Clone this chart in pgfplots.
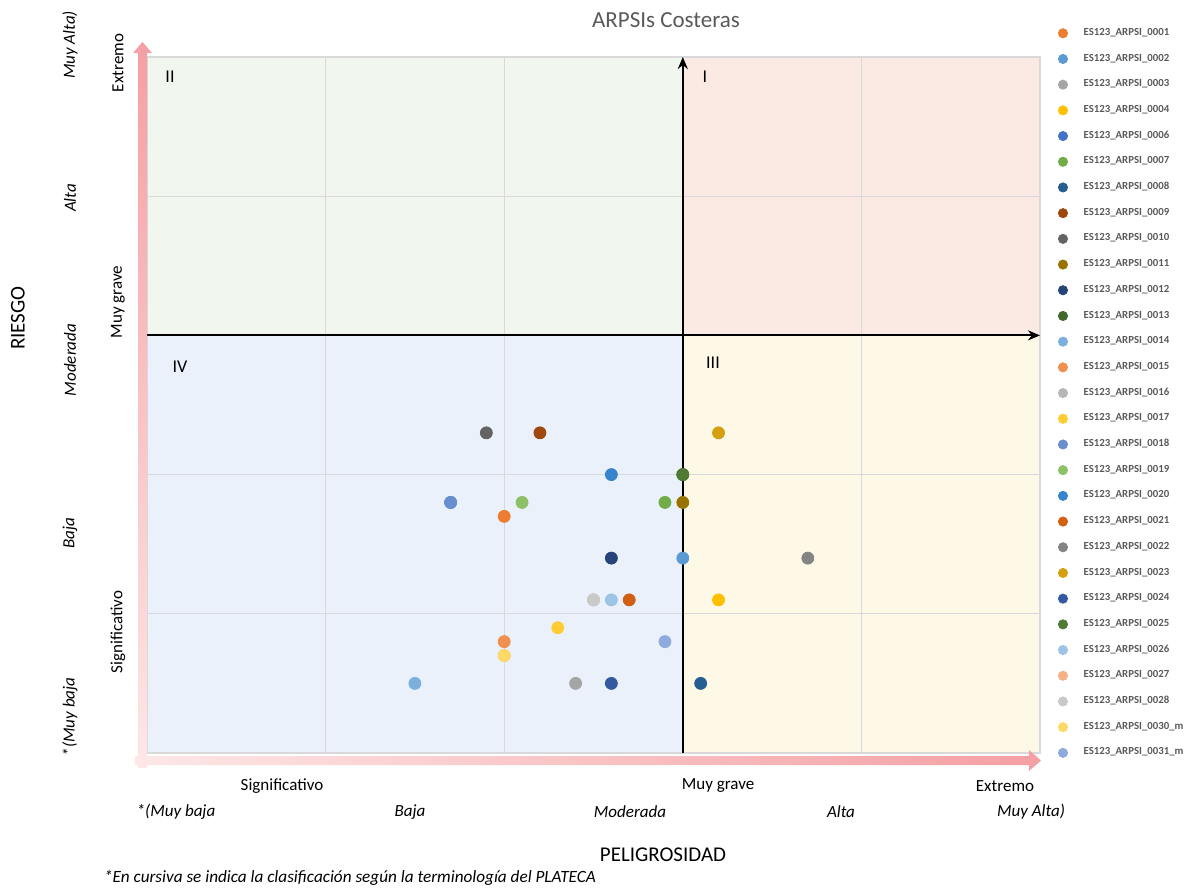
\documentclass[border=0pt]{standalone}
\usepackage{pgfplots}
\pgfplotsset{compat=1.18}
\usepackage{fontspec}
\setmainfont{Carlito}
\usetikzlibrary{arrows.meta}
\definecolor{c01}{HTML}{ED7D31}
\definecolor{c02}{HTML}{5B9BD5}
\definecolor{c03}{HTML}{A5A5A5}
\definecolor{c04}{HTML}{FFC000}
\definecolor{c06}{HTML}{4472C4}
\definecolor{c07}{HTML}{70AD47}
\definecolor{c08}{HTML}{255E91}
\definecolor{c09}{HTML}{9E480E}
\definecolor{c10}{HTML}{636363}
\definecolor{c11}{HTML}{997300}
\definecolor{c12}{HTML}{264478}
\definecolor{c13}{HTML}{43682B}
\definecolor{c14}{HTML}{7CAFDD}
\definecolor{c15}{HTML}{F0904F}
\definecolor{c16}{HTML}{B7B7B7}
\definecolor{c17}{HTML}{FFCD33}
\definecolor{c18}{HTML}{698ED0}
\definecolor{c19}{HTML}{8CC168}
\definecolor{c20}{HTML}{3584CC}
\definecolor{c21}{HTML}{D26012}
\definecolor{c22}{HTML}{848484}
\definecolor{c23}{HTML}{D4A010}
\definecolor{c24}{HTML}{335AA1}
\definecolor{c25}{HTML}{4E7A33}
\definecolor{c26}{HTML}{9DC3E6}
\definecolor{c27}{HTML}{F4B183}
\definecolor{c28}{HTML}{C9C9C9}
\definecolor{c30}{HTML}{FFD966}
\definecolor{c31}{HTML}{8FAADC}
\definecolor{bgI}{HTML}{FBEAE3}
\definecolor{bgII}{HTML}{F1F7EF}
\definecolor{bgIII}{HTML}{FEF8E7}
\definecolor{bgIV}{HTML}{EAF1FA}
\definecolor{gridc}{HTML}{D9D9D9}
\definecolor{txtgray}{HTML}{595959}
\definecolor{pinkA}{HTML}{FDE7E7}
\definecolor{pinkB}{HTML}{F59FA3}
\begin{document}
\begin{tikzpicture}
\begin{scope}[x=0.5pt,y=0.5pt]
% quadrant backgrounds (pixel coordinates of the plot area)
\fill[bgIV] (147,137) rectangle (683.6,555.3);
\fill[bgIII] (683.6,137) rectangle (1040,555.3);
\fill[bgII] (147,555.3) rectangle (683.6,833);
\fill[bgI] (683.6,555.3) rectangle (1040,833);
\end{scope}
\begin{axis}[
  at={(73.5pt,68.5pt)}, anchor=south west,
  x=89.3pt, y=69.6pt,
  xmin=0, xmax=5, ymin=0, ymax=5,
  xtick={1,2,3,4}, ytick={1,2,3,4},
  xticklabels={}, yticklabels={},
  major tick length=0pt,
  grid=major,
  grid style={draw=gridc, line width=0.6pt},
  axis line style={draw=gridc, line width=0.6pt},
  clip=false,
  every axis plot/.append style={only marks, mark=*, mark size=3pt},
  legend style={at={(1.0134,1.0589)}, anchor=north west, draw=none, fill=none,
    font=\fontsize{5.4}{6}\selectfont\bfseries, text=txtgray,
    row sep=0pt, nodes={minimum height=12.85pt, inner sep=1pt},
    /tikz/every odd column/.append style={column sep=7pt}},
  legend cell align=left,
  legend image post style={mark size=2.3pt},
]
\draw[line width=1pt, -{Stealth[length=6pt,width=5pt]}] (axis cs:3,0) -- (axis cs:3,5);
\draw[line width=1pt, -{Stealth[length=6pt,width=5pt]}] (axis cs:0,3) -- (axis cs:5,3);
\addplot[color=c01] coordinates {(2.0,1.7)}; \addlegendentry{ES123\_ARPSI\_0001}
\addplot[color=c02] coordinates {(3.0,1.4)}; \addlegendentry{ES123\_ARPSI\_0002}
\addplot[color=c03] coordinates {(2.4,0.5)}; \addlegendentry{ES123\_ARPSI\_0003}
\addplot[color=c04] coordinates {(3.2,1.1)}; \addlegendentry{ES123\_ARPSI\_0004}
\addplot[color=c06] coordinates {(1.7,1.8)}; \addlegendentry{ES123\_ARPSI\_0006}
\addplot[color=c07] coordinates {(2.9,1.8)}; \addlegendentry{ES123\_ARPSI\_0007}
\addplot[color=c08] coordinates {(3.1,0.5)}; \addlegendentry{ES123\_ARPSI\_0008}
\addplot[color=c09] coordinates {(2.2,2.3)}; \addlegendentry{ES123\_ARPSI\_0009}
\addplot[color=c10] coordinates {(1.9,2.3)}; \addlegendentry{ES123\_ARPSI\_0010}
\addplot[color=c11] coordinates {(3.0,1.8)}; \addlegendentry{ES123\_ARPSI\_0011}
\addplot[color=c12] coordinates {(2.6,1.4)}; \addlegendentry{ES123\_ARPSI\_0012}
\addplot[color=c13] coordinates {(3.0,2.0)}; \addlegendentry{ES123\_ARPSI\_0013}
\addplot[color=c14] coordinates {(1.5,0.5)}; \addlegendentry{ES123\_ARPSI\_0014}
\addplot[color=c15] coordinates {(2.0,0.8)}; \addlegendentry{ES123\_ARPSI\_0015}
\addplot[color=c16] coordinates {(2.5,1.1)}; \addlegendentry{ES123\_ARPSI\_0016}
\addplot[color=c17] coordinates {(2.3,0.9)}; \addlegendentry{ES123\_ARPSI\_0017}
\addplot[color=c18] coordinates {(1.7,1.8)}; \addlegendentry{ES123\_ARPSI\_0018}
\addplot[color=c19] coordinates {(2.1,1.8)}; \addlegendentry{ES123\_ARPSI\_0019}
\addplot[color=c20] coordinates {(2.6,2.0)}; \addlegendentry{ES123\_ARPSI\_0020}
\addplot[color=c21] coordinates {(2.7,1.1)}; \addlegendentry{ES123\_ARPSI\_0021}
\addplot[color=c22] coordinates {(3.7,1.4)}; \addlegendentry{ES123\_ARPSI\_0022}
\addplot[color=c23] coordinates {(3.2,2.3)}; \addlegendentry{ES123\_ARPSI\_0023}
\addplot[color=c24] coordinates {(2.6,0.5)}; \addlegendentry{ES123\_ARPSI\_0024}
\addplot[color=c25] coordinates {(3.0,2.0)}; \addlegendentry{ES123\_ARPSI\_0025}
\addplot[color=c26] coordinates {(2.6,1.1)}; \addlegendentry{ES123\_ARPSI\_0026}
\addplot[color=c27] coordinates {(2.0,0.7)}; \addlegendentry{ES123\_ARPSI\_0027}
\addplot[color=c28] coordinates {(2.5,1.1)}; \addlegendentry{ES123\_ARPSI\_0028}
\addplot[color=c30] coordinates {(2.0,0.7)}; \addlegendentry{ES123\_ARPSI\_0030\_m}
\addplot[color=c31] coordinates {(2.9,0.8)}; \addlegendentry{ES123\_ARPSI\_0031\_m}
\end{axis}
\begin{scope}[x=0.5pt,y=0.5pt]
% pink arrows
\shade[bottom color=pinkA, top color=pinkB]
  (138,890-768) -- (138,890-53) -- (133,890-53) -- (142.5,890-42) -- (152,890-53) -- (147,890-53) -- (147,890-768) -- cycle;
\shade[left color=pinkA, right color=pinkB]
  (135,890-756) -- (1029,890-756) -- (1029,890-750) -- (1041,890-760.5) -- (1029,890-771) -- (1029,890-765) -- (135,890-765) -- cycle;
% quadrant numerals
\node[font=\fontsize{9}{10}\selectfont] at (170,890-77) {II};
\node[font=\fontsize{9}{10}\selectfont] at (705,890-77) {I};
\node[font=\fontsize{9}{10}\selectfont] at (180,890-367) {IV};
\node[font=\fontsize{9}{10}\selectfont] at (713,890-363) {III};
% title
\node[text=txtgray, font=\fontsize{11.5}{13}\selectfont] at (666,890-20) {ARPSIs Costeras};
% x labels
\node[font=\fontsize{8.5}{10}\selectfont] at (282,890-786) {Significativo};
\node[font=\fontsize{8.5}{10}\selectfont] at (718,890-786) {Muy grave};
\node[font=\fontsize{8.5}{10}\selectfont] at (1005,890-786) {Extremo};
\node[font=\fontsize{8.5}{10}\selectfont\itshape] at (176,890-812) {*(Muy baja};
\node[font=\fontsize{8.5}{10}\selectfont\itshape] at (410,890-812) {Baja};
\node[font=\fontsize{8.5}{10}\selectfont\itshape] at (630,890-812) {Moderada};
\node[font=\fontsize{8.5}{10}\selectfont\itshape] at (841,890-812) {Alta};
\node[font=\fontsize{8.5}{10}\selectfont\itshape] at (1031,890-812) {Muy Alta)};
% y labels
\node[rotate=90,font=\fontsize{8.5}{10}\selectfont] at (118,890-632) {Significativo};
\node[rotate=90,font=\fontsize{8.5}{10}\selectfont] at (118,890-302) {Muy grave};
\node[rotate=90,font=\fontsize{8.5}{10}\selectfont] at (118,890-63) {Extremo};
\node[rotate=90,font=\fontsize{8.5}{10}\selectfont\itshape] at (70,890-717) {*(Muy baja};
\node[rotate=90,font=\fontsize{8.5}{10}\selectfont\itshape] at (70,890-533) {Baja};
\node[rotate=90,font=\fontsize{8.5}{10}\selectfont\itshape] at (70,890-360) {Moderada};
\node[rotate=90,font=\fontsize{8.5}{10}\selectfont\itshape] at (70,890-198) {Alta};
\node[rotate=90,font=\fontsize{8.5}{10}\selectfont\itshape] at (70,890-45) {Muy Alta)};
\node[font=\fontsize{10.5}{12}\selectfont] at (663,890-855) {PELIGROSIDAD};
\node[rotate=90, font=\fontsize{10.5}{12}\selectfont] at (18,890-318) {RIESGO};
\node[anchor=west, font=\fontsize{8.6}{10}\selectfont\itshape] at (97,890-878) {*En cursiva se indica la clasificación según la terminología del PLATECA};
\pgfresetboundingbox
\useasboundingbox (0,0) rectangle (1184,890);
\end{scope}
\end{tikzpicture}
\end{document}
